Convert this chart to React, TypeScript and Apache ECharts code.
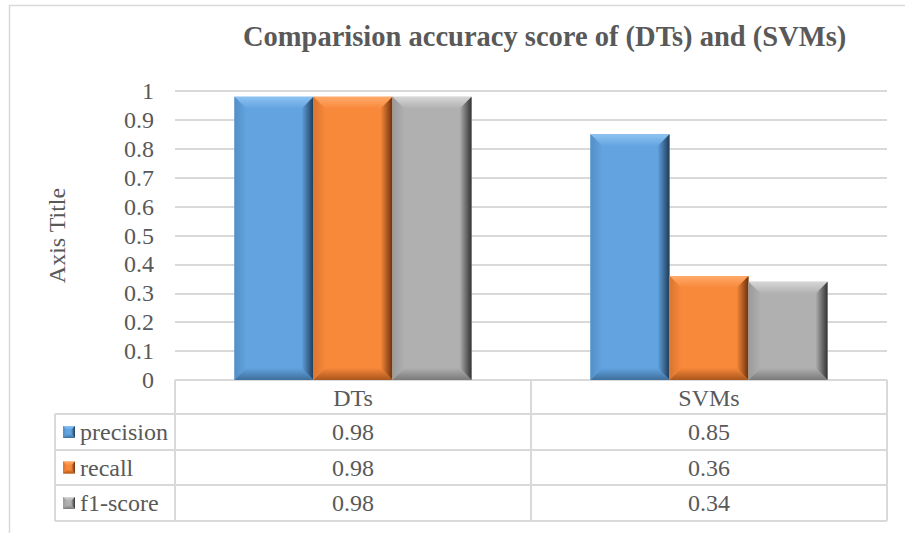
import React, { useEffect, useRef } from "react";
import * as echarts from "echarts";

const categories = ["DTs", "SVMs"];
const seriesNames = ["precision", "recall", "f1-score"];
const precision = [0.98, 0.85];
const recall = [0.98, 0.36];
const f1score = [0.98, 0.34];
const seriesValues = [precision, recall, f1score];

const FONT = "'Liberation Serif', 'Times New Roman', Times, serif";
const TEXT = "#595959";
const LINE = "#D9D9D9";

const palettes = [
  { face: "#62A3E0", light: "#8CC3F2", left: "#548FC6", dark: "#1E3B58", bottom: "#3F6F9C" },
  { face: "#F8883A", light: "#FFAA6A", left: "#D97630", dark: "#6B310C", bottom: "#A9561D" },
  { face: "#B0B0B0", light: "#D6D6D6", left: "#9A9A9A", dark: "#333333", bottom: "#7A7A7A" },
];

const W = 905;
const H = 533;
const GRID_L = 175;
const GRID_R = 887;
const GRID_T = 91;
const GRID_B = 380;
const TABLE_L = 55;
const ROW_Y = [380, 414, 450, 485, 521];
const BAND_FILL = 0.666;
const BEVEL = 12;

function lg(x0: number, y0: number, x1: number, y1: number, c0: string, c1: string) {
  return new echarts.graphic.LinearGradient(x0, y0, x1, y1, [
    { offset: 0, color: c0 },
    { offset: 1, color: c1 },
  ]);
}

function bevelChildren(x: number, y: number, w: number, h: number, p: any, b: number) {
  return [
    { type: "rect", shape: { x, y, width: w, height: h }, style: { fill: p.face } },
    {
      type: "polygon",
      shape: { points: [[x, y], [x + w, y], [x + w - b, y + b], [x + b, y + b]] },
      style: { fill: lg(0, 0, 0, 1, p.light, p.face) },
    },
    {
      type: "polygon",
      shape: { points: [[x, y], [x + b, y + b], [x + b, y + h - b], [x, y + h]] },
      style: { fill: lg(0, 0, 1, 0, p.left, p.face) },
    },
    {
      type: "polygon",
      shape: { points: [[x + w, y], [x + w, y + h], [x + w - b, y + h - b], [x + w - b, y + b]] },
      style: { fill: lg(1, 0, 0, 0, p.dark, p.face) },
    },
    {
      type: "polygon",
      shape: { points: [[x, y + h], [x + w, y + h], [x + w - b, y + h - b], [x + b, y + h - b]] },
      style: { fill: lg(0, 1, 0, 0, p.bottom, p.face) },
    },
  ];
}

export default function App() {
  const ref = useRef<HTMLDivElement>(null);

  useEffect(() => {
    document.body.style.margin = "0";
    if (!ref.current) return;
    const chart = echarts.init(ref.current, null, { renderer: "svg" });

    const series = seriesNames.map((name, si) => ({
      type: "custom",
      name,
      data: seriesValues[si].map((v, ci) => [ci, v]),
      renderItem: (params: any, api: any) => {
        const ci = api.value(0);
        const v = api.value(1);
        const base = api.coord([ci, 0]);
        const top = api.coord([ci, v]);
        const band = api.size([1, 0])[0];
        const groupW = band * BAND_FILL;
        const barW = groupW / seriesNames.length;
        const x = base[0] - groupW / 2 + si * barW;
        const y = top[1];
        const h = base[1] - top[1];
        return {
          type: "group",
          children: bevelChildren(x, y, barW, h, palettes[si], BEVEL),
        };
      },
    }));

    const graphics: any[] = [];
    graphics.push({
      type: "rect",
      shape: { x: 9.5, y: 5.5, width: 1000, height: 1000 },
      style: { fill: "none", stroke: LINE, lineWidth: 1.5 },
      silent: true,
    });
    const colW = (GRID_R - GRID_L) / categories.length;
    ROW_Y.forEach((yy, i) => {
      graphics.push({
        type: "line",
        shape: { x1: i === 0 ? GRID_L : TABLE_L, y1: yy, x2: GRID_R, y2: yy },
        style: { stroke: LINE, lineWidth: 2 },
      });
    });
    graphics.push({
      type: "line",
      shape: { x1: TABLE_L, y1: ROW_Y[1], x2: TABLE_L, y2: ROW_Y[4] },
      style: { stroke: LINE, lineWidth: 2 },
    });
    for (let c = 0; c <= categories.length; c++) {
      const xx = GRID_L + c * colW;
      graphics.push({
        type: "line",
        shape: { x1: xx, y1: ROW_Y[0], x2: xx, y2: ROW_Y[4] },
        style: { stroke: LINE, lineWidth: 2 },
      });
    }
    seriesNames.forEach((name, si) => {
      const cy = (ROW_Y[si + 1] + ROW_Y[si + 2]) / 2;
      const p = palettes[si];
      graphics.push({
        type: "group",
        children: bevelChildren(63, cy - 6, 12, 12, p, 4),
      });
      graphics.push({
        type: "text",
        x: 80,
        y: cy,
        style: {
          text: name,
          fill: TEXT,
          fontFamily: FONT,
          fontSize: 24,
          textAlign: "left",
          textVerticalAlign: "middle",
        },
      });
      seriesValues[si].forEach((v, ci) => {
        graphics.push({
          type: "text",
          x: GRID_L + (ci + 0.5) * colW,
          y: cy,
          style: {
            text: String(v),
            fill: TEXT,
            fontFamily: FONT,
            fontSize: 24,
            textAlign: "center",
            textVerticalAlign: "middle",
          },
        });
      });
    });

    chart.setOption({
      animation: false,
      backgroundColor: "#ffffff",
      textStyle: { fontFamily: FONT },
      title: {
        text: "Comparision accuracy score of (DTs) and (SVMs)",
        left: 243,
        top: 22,
        padding: 0,
        textStyle: { fontFamily: FONT, fontSize: 28.5, fontWeight: "bold", color: TEXT },
      },
      grid: { left: GRID_L, right: W - GRID_R, top: GRID_T, bottom: H - GRID_B, containLabel: false },
      xAxis: {
        type: "category",
        data: categories,
        axisLine: { show: false },
        axisTick: { show: false },
        axisLabel: {
          margin: 18,
          verticalAlign: "middle",
          fontFamily: FONT,
          fontSize: 24,
          color: TEXT,
        },
      },
      yAxis: {
        type: "value",
        min: 0,
        max: 1,
        interval: 0.1,
        name: "Axis Title",
        nameLocation: "middle",
        nameRotate: 90,
        nameGap: 106,
        nameTextStyle: { fontFamily: FONT, fontSize: 24, color: TEXT },
        axisLine: { show: false },
        axisTick: { show: false },
        axisLabel: { margin: 21, fontFamily: FONT, fontSize: 24, color: TEXT },
        splitLine: { lineStyle: { color: LINE, width: 2 } },
      },
      series,
      graphic: graphics,
    });

    return () => chart.dispose();
  }, []);

  return <div ref={ref} style={{ width: W, height: H }} />;
}
